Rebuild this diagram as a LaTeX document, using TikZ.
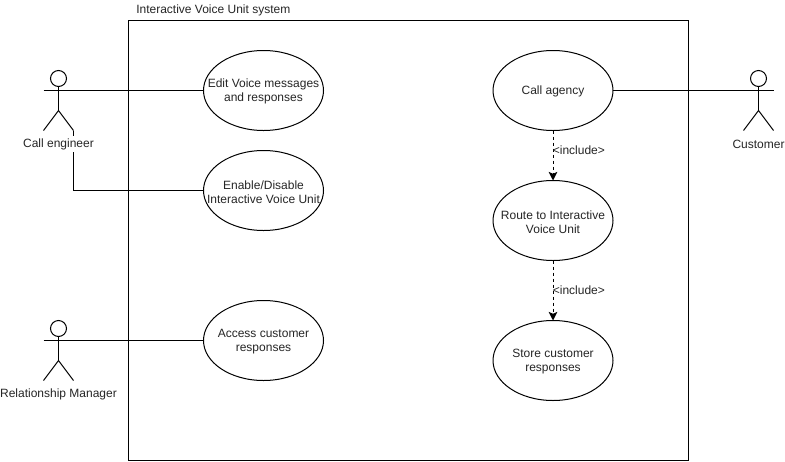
\documentclass[tikz,border=0pt]{standalone}
\usepackage{fontspec}
\setmainfont{Liberation Sans}
\usetikzlibrary{shapes.geometric,arrows.meta}
\tikzset{
  every node/.style={font=\fontsize{9}{10.5}\selectfont,text=black!85},
  usecase/.style={draw=black,ellipse,line width=.75pt,minimum width=90pt,minimum height=60pt,inner sep=0pt,outer sep=0pt},
  uctext/.style={inner sep=0pt,align=center,yshift=-1pt},
  link/.style={draw=black,line width=.75pt},
  incl/.style={draw=black,line width=.75pt,dash pattern=on 2.25pt off 2.25pt,-{Stealth[length=6.5pt,width=6.5pt,inset=1.5pt]}},
  caption/.style={inner sep=0pt,align=center},
  actor/.pic={
    \draw[line width=.75pt] (0,-12) circle[radius=8];
    \draw[line width=.75pt] (0,-4) -- (0,20);
    \draw[line width=.75pt] (-15,0) -- (15,0);
    \draw[line width=.75pt] (-15,40) -- (0,20) -- (15,40);
    \coordinate (-lhand) at (-15,0);
    \coordinate (-rhand) at (15,0);
    \coordinate (-rfoot) at (15,40);
  }
}
\begin{document}
\begin{tikzpicture}[x=.75pt,y=-.75pt]
\useasboundingbox (0,0) rectangle (785,461);
\fill[white] (0,0) rectangle (785,461);
\node[draw=black,line width=.75pt,minimum width=420pt,minimum height=330pt,inner sep=0pt,outer sep=0pt] (sys) at (408.5,240.5) {};
\node[caption,anchor=west] (title) at (136,10) {Interactive Voice Unit system};

\node[usecase] (edit) at (263.5,90.5) {};
\node[usecase] (enable) at (263.5,190.5) {};
\node[usecase] (access) at (263.5,340.5) {};
\node[usecase] (call) at (553,90.5) {};
\node[usecase] (route) at (553,220.5) {};
\node[usecase] (store) at (553,360.5) {};
\node[uctext] (editt) at (edit) {Edit Voice messages\\and responses};
\node[uctext] (enablet) at (enable) {Enable/Disable\\Interactive Voice Unit};
\node[uctext] (accesst) at (access) {Access customer\\responses};
\node[uctext] (callt) at (call) {Call agency};
\node[uctext] (routet) at (route) {Route to Interactive\\Voice Unit};
\node[uctext] (storet) at (store) {Store customer\\responses};

\pic (eng) at (58.5,90.5) {actor};
\pic (rel) at (58.5,340.5) {actor};
\pic (cus) at (758.5,90.5) {actor};

\draw[link] (eng-rhand) -- (edit.west);
\draw[link] (eng-rfoot) |- (enable.west);
\draw[link] (rel-rhand) -- (access.west);
\draw[link] (call.east) -- (cus-lhand);

\node[caption,fill=white,inner ysep=1.5pt] (englabel) at (58.5,144) {Call engineer};
\node[caption] (rellabel) at (58.5,394) {Relationship Manager};
\node[caption] (cuslabel) at (758.5,144) {Customer};

\draw[incl] (call.south) -- node[caption,anchor=west,pos=.4,xshift=-.5pt] (inc1) {<include>} (route.north);
\draw[incl] (route.south) -- node[caption,anchor=west,pos=.5,xshift=-.5pt] (inc2) {<include>} (store.north);
\end{tikzpicture}
\end{document}
